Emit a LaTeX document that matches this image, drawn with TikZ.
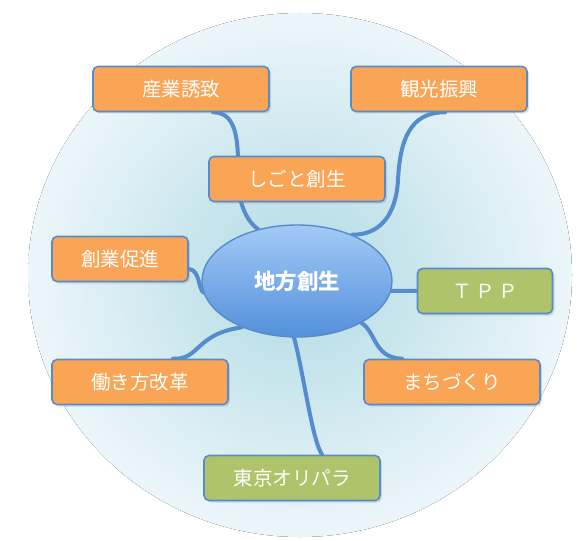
\documentclass[tikz,border=0pt]{standalone}
\usepackage{fontspec}
\usepackage{xcolor}
\usepackage{tikz}
\usetikzlibrary{shapes,shadows,backgrounds}
\setmainfont{Noto Sans CJK JP}

\definecolor{boxorange}{RGB}{250,164,85}
\definecolor{boxgreen}{RGB}{175,196,106}
\definecolor{rimblue}{RGB}{88,140,200}
\definecolor{linkblue}{RGB}{85,140,205}

\begin{document}
\begin{tikzpicture}[x=1pt, y=-1pt,
    topic/.style={rectangle, draw=rimblue, fill=boxorange, line width=1.6pt,
                  rounded corners=5pt, minimum width=176pt, minimum height=45pt,
                  text=white, font=\fontsize{19.5}{22}\selectfont,
                  drop shadow={opacity=0.25, shadow xshift=2pt, shadow yshift=-2pt}},
    hub/.style={ellipse, draw=rimblue, line width=1.4pt, minimum width=190pt, minimum height=112pt,
                top color={rgb,255:red,162;green,202;blue,246}, bottom color={rgb,255:red,84;green,144;blue,220},
                text=white, font=\fontsize{21.5}{24}\selectfont\bfseries},
    link/.style={linkblue, line width=4pt, line cap=round},
]
\useasboundingbox (0,0) rectangle (580,540);

% centre and branches
\node[hub] (hub) at (297,281) {地方創生};
\node[topic] (sangyo) at (181,89) {産業誘致};
\node[topic] (kanko) at (439,89) {観光振興};
\node[topic] (shigoto) at (297,179) {しごと創生};
\node[topic, minimum width=136pt] (sogyo) at (120,259) {創業促進};
\node[topic, fill=boxgreen, minimum width=135pt] (tpp) at (485,291) {Ｔ\,Ｐ\,Ｐ};
\node[topic] (hataraki) at (140,382) {働き方改革};
\node[topic] (machi) at (452,382) {まちづくり};
\node[topic, fill=boxgreen] (tokyo) at (292,478) {東京オリパラ};

\begin{scope}[on background layer]
% backdrop disc
\fill[inner color={rgb,255:red,176;green,218;blue,228}, outer color={rgb,255:red,236;green,246;blue,250}]
    (300,275) ellipse [x radius=272, y radius=262];
% links
\draw[link] ([xshift=32pt]sangyo.south) .. controls (240,112) and (238,150) .. (238,178)
    .. controls (238,205) and (248,222) .. (hub.127);
\draw[link] ([xshift=6pt]kanko.south) .. controls (410,112) and (400,140) .. (398,180)
    .. controls (396,215) and (380,235) .. (hub.40);
\draw[link] ([yshift=-10pt]sogyo.east) .. controls (200,270) and (198,288) .. (hub.187);
\draw[link] (hub.-6) -- (tpp.west);
\draw[link] (hub.-33) .. controls (376,332) and (374,358) .. ([xshift=-50pt]machi.north);
\draw[link] ([xshift=33pt]hataraki.north) .. controls (200,360) and (195,334) .. (hub.-140);
\draw[link] (hub.-93) .. controls (303,370) and (312,440) .. ([xshift=30pt]tokyo.north);
\end{scope}
\end{tikzpicture}
\end{document}
